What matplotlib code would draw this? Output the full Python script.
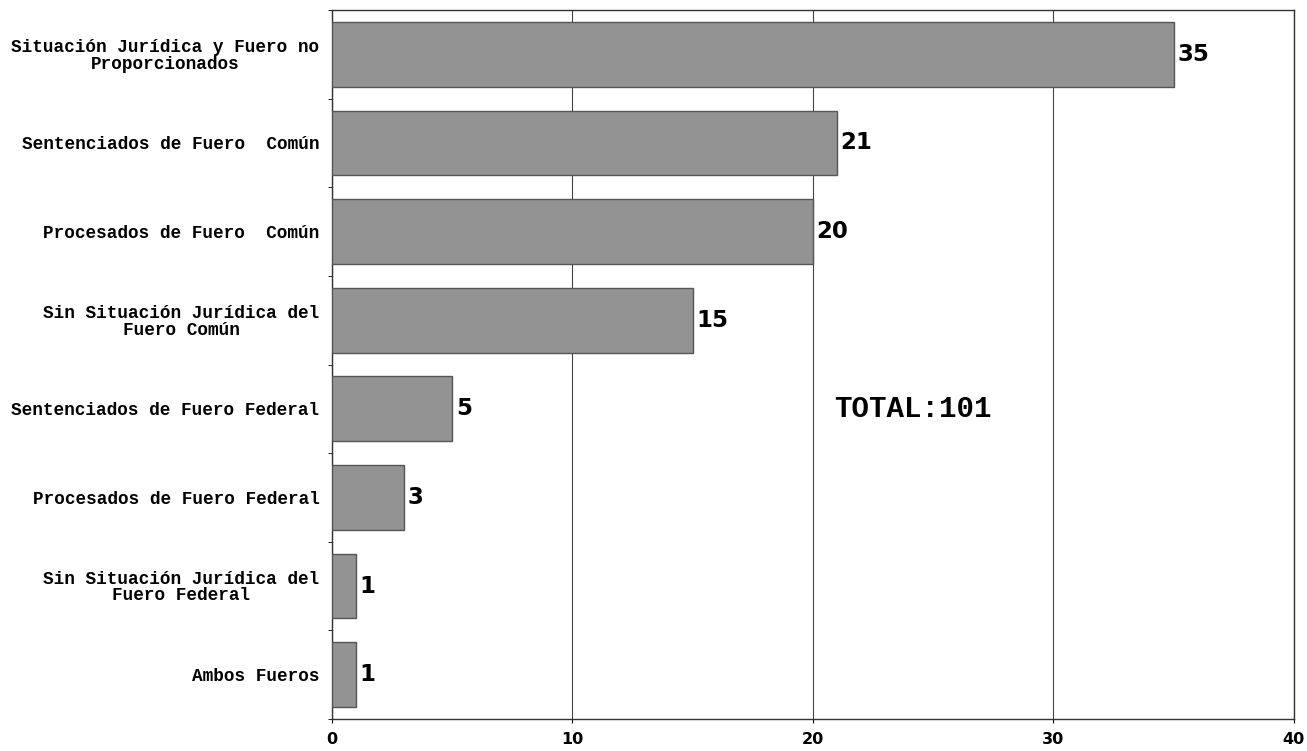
import matplotlib.pyplot as plt
import numpy as np

# categories from top to bottom
categorias = [
    "Situación Jurídica y Fuero no\nProporcionados",
    "Sentenciados de Fuero  Común",
    "Procesados de Fuero  Común",
    "Sin Situación Jurídica del\nFuero Común",
    "Sentenciados de Fuero Federal",
    "Procesados de Fuero Federal",
    "Sin Situación Jurídica del\nFuero Federal",
    "Ambos Fueros",
]
valores = [35, 21, 20, 15, 5, 3, 1, 1]
xticks = [0, 10, 20, 30, 40]
total_txt = "TOTAL:101"

mono = ['Liberation Mono', 'DejaVu Sans Mono']

fig = plt.figure(figsize=(13.07, 7.51), dpi=100)
ax = fig.add_axes([0.254, 0.0426, 0.736, 0.944])

y = np.arange(len(categorias))
ax.barh(y, valores, height=0.73, color='#939393', edgecolor='#555555',
        linewidth=1.0, zorder=3)

# value labels
for yi, v in zip(y, valores):
    ax.text(v + 0.15, yi, str(v), va='center', ha='left',
            fontsize=16.5, fontweight='bold', family='DejaVu Sans',
            color='black', zorder=4)

ax.text(20.9, 4.0, total_txt, va='center', ha='left', fontsize=21,
        family=mono, fontweight='bold', color='black')

ax.set_xlim(0, 40)
ax.set_ylim(7.5, -0.48)
ax.set_xticks(xticks)
ax.set_xticklabels([str(t) for t in xticks], fontsize=11.5, fontweight='bold',
                   family='DejaVu Sans')
ax.set_yticks(y)
ax.set_yticklabels(categorias, fontsize=12.8, fontweight='bold', family=mono,
                   multialignment='center', linespacing=0.95)
ax.tick_params(axis='y', length=0, pad=9)
ax.tick_params(axis='x', length=3, pad=6, direction='out')
ax.set_yticks(np.arange(-0.5, len(categorias), 1.0), minor=True)
ax.tick_params(axis='y', which='minor', length=3, direction='out')

ax.grid(axis='x', color='#444444', linewidth=0.8, zorder=0)
for s in ax.spines.values():
    s.set_color('#333333')
    s.set_linewidth(1.0)

plt.savefig('out.png', dpi=100)
